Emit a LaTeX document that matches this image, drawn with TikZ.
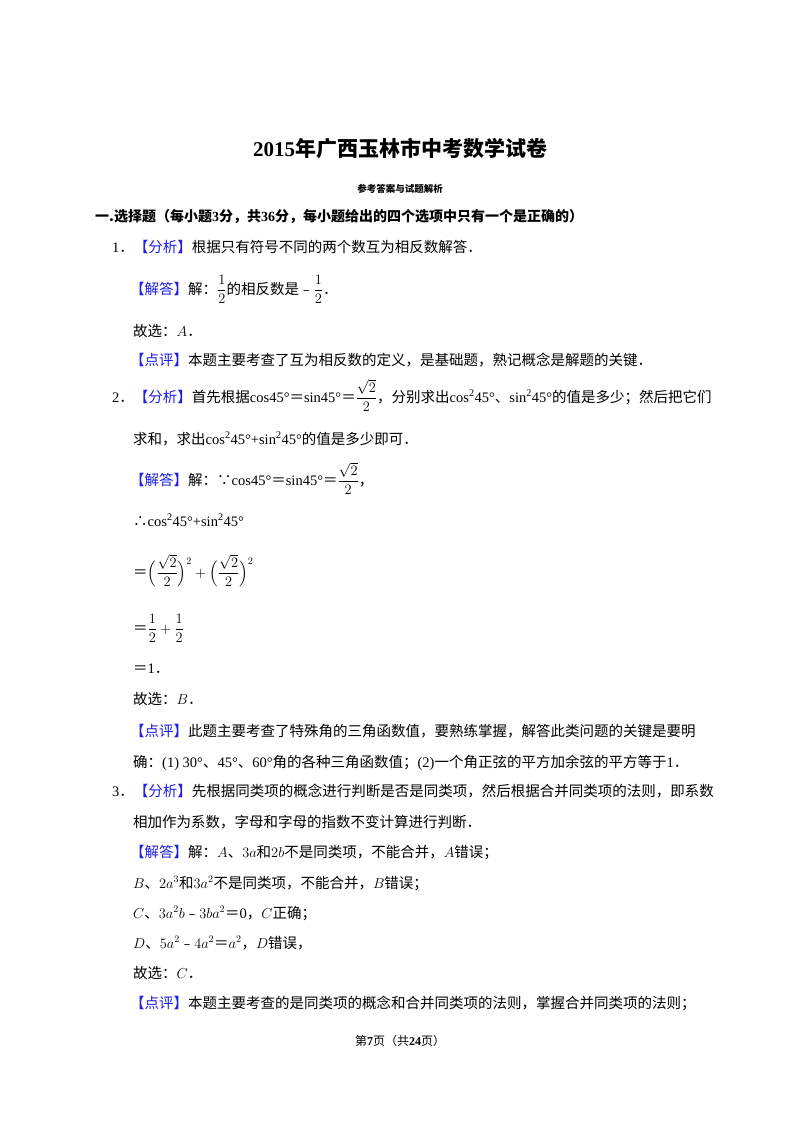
\documentclass[tikz,border=0pt]{standalone}
\usepackage{amsmath}
\usepackage{fontspec}
\setmainfont{Noto Sans CJK SC}
\newfontfamily\ser{Liberation Serif}
\usepackage{xcolor}
\definecolor{lb}{RGB}{30,30,230}
\newcommand{\bk}[1]{{\color{lb}【#1】}}
\begin{document}
\begin{tikzpicture}[x=1pt,y=-1pt,
  t/.style={anchor=base west,inner sep=0pt,font=\fontsize{14.5}{16}\selectfont}]
\useasboundingbox (0,0) rectangle (800,1132);
\fill[white] (0,0) rectangle (800,1132);
\node[anchor=base,inner sep=0pt,font=\fontsize{21}{24}\selectfont\bfseries] (title) at (400,156) {{\ser 2015}年广西玉林市中考数学试卷};
\node[anchor=base,inner sep=0pt,font=\fontsize{9.5}{11}\selectfont\bfseries] (sub) at (400,192) {参考答案与试题解析};
\node[t,font=\fontsize{14}{16}\selectfont\bfseries] (sec) at (95,221) {一.选择题（每小题{\ser 3}分，共{\ser 36}分，每小题给出的四个选项中只有一个是正确的）};
\node[t] (l1) at (112,252) {{\ser 1}．\bk{分析}根据只有符号不同的两个数互为相反数解答．};
\node[t] (l2) at (130,294) {\bk{解答}解：$\dfrac{1}{2}$的相反数是﹣$\dfrac{1}{2}$．};
\node[t] (l3) at (133,336) {故选：$A$．};
\node[t] (l4) at (130,365) {\bk{点评}本题主要考查了互为相反数的定义，是基础题，熟记概念是解题的关键．};
\node[t] (l5) at (112,402) {{\ser 2}．\bk{分析}首先根据{\ser cos45°}＝{\ser sin45°}＝$\dfrac{\sqrt{2}}{2}$，分别求出{\ser cos\textsuperscript{2}45°}、{\ser sin\textsuperscript{2}45°}的值是多少；然后把它们};
\node[t] (l6) at (133,444) {求和，求出{\ser cos\textsuperscript{2}45°+sin\textsuperscript{2}45°}的值是多少即可．};
\node[t] (l7) at (130,485) {\bk{解答}解：∵{\ser cos45°}＝{\ser sin45°}＝$\dfrac{\sqrt{2}}{2}$，};
\node[t] (l8) at (133,526) {∴{\ser cos\textsuperscript{2}45°+sin\textsuperscript{2}45°}};
\node[t] (l9) at (133,577) {＝$\Bigl(\dfrac{\sqrt{2}}{2}\Bigr)^{2}+\Bigl(\dfrac{\sqrt{2}}{2}\Bigr)^{2}$};
\node[t] (l10) at (133,633) {＝$\dfrac{1}{2}+\dfrac{1}{2}$};
\node[t] (l11) at (133,673) {＝{\ser 1}．};
\node[t] (l12) at (133,704) {故选：$B$．};
\node[t] (l13) at (130,736) {\bk{点评}此题主要考查了特殊角的三角函数值，要熟练掌握，解答此类问题的关键是要明};
\node[t] (l14) at (133,767) {确：{\ser (1) 30°}、{\ser 45°}、{\ser 60°}角的各种三角函数值；{\ser (2)}一个角正弦的平方加余弦的平方等于{\ser 1}．};
\node[t] (l15) at (112,796) {{\ser 3}．\bk{分析}先根据同类项的概念进行判断是否是同类项，然后根据合并同类项的法则，即系数};
\node[t] (l16) at (133,827) {相加作为系数，字母和字母的指数不变计算进行判断．};
\node[t] (l17) at (130,857) {\bk{解答}解：$A$、$3a$和$2b$不是同类项，不能合并，$A$错误；};
\node[t] (l18) at (133,888) {$B$、$2a^3$和$3a^2$不是同类项，不能合并，$B$错误；};
\node[t] (l19) at (133,918) {$C$、$3a^2b$﹣$3ba^2$＝{\ser 0}，$C$正确；};
\node[t] (l20) at (133,948) {$D$、$5a^2$﹣$4a^2$＝$a^2$，$D$错误，};
\node[t] (l21) at (133,978) {故选：$C$．};
\node[t] (l22) at (130,1008) {\bk{点评}本题主要考查的是同类项的概念和合并同类项的法则，掌握合并同类项的法则；};
\node[anchor=base,inner sep=0pt,font=\fontsize{12}{14}\selectfont] (foot) at (400,1045) {第{\bfseries\ser 7}页（共{\bfseries\ser 24}页）};
\end{tikzpicture}
\end{document}
